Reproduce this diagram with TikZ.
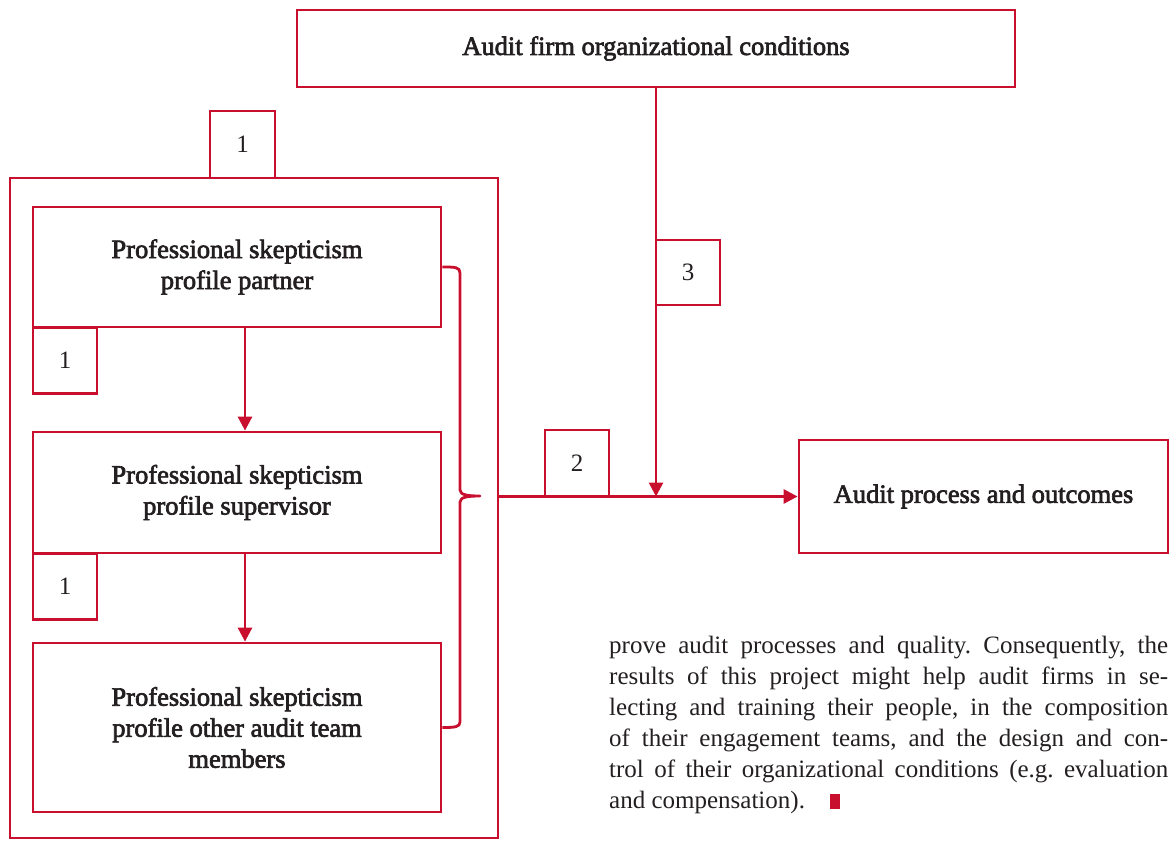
\documentclass[tikz,border=0pt]{standalone}
\usepackage{fontspec}
\setmainfont{Liberation Serif}
\newfontfamily\semib[FakeBold=2.5]{Liberation Serif}
\usetikzlibrary{arrows.meta}
\definecolor{pred}{RGB}{200,16,46}
\definecolor{ptext}{RGB}{35,31,32}
\begin{document}
\begin{tikzpicture}[x=1pt,y=-1pt,
  box/.style={draw=pred, line width=2.8pt, text=ptext, align=center, inner sep=0pt,
              font=\semib\fontsize{26.5}{31}\selectfont},
  numbox/.style={draw=pred, line width=2.8pt, text=ptext, inner sep=0pt,
              font=\fontsize{25}{30}\selectfont, minimum width=64pt, minimum height=66pt},
  conn/.style={draw=pred, line width=2.8pt},
  arr/.style={conn, -{Triangle[length=14pt,width=14pt]}}]
\useasboundingbox (0,0) rectangle (1176,841);

\node[box, minimum width=718pt, minimum height=77pt] (top) at (656,48.5) {Audit firm organizational conditions};
\node[draw=pred, line width=2.8pt, minimum width=488pt, minimum height=660pt, inner sep=0pt] (outer) at (254,508) {};
\node[numbox, minimum width=65pt, minimum height=67pt] (n1top) at (242.5,144.5) {1};

\node[box, minimum width=408pt, minimum height=120pt] (partner) at (237,267) {Professional skepticism\\profile partner};
\node[numbox] (n1a) at (65,360.5) {1};
\node[box, minimum width=408pt, minimum height=121pt] (sup) at (237,492.5) {Professional skepticism\\profile supervisor};
\node[numbox] (n1b) at (65,586.5) {1};
\node[box, minimum width=408pt, minimum height=169pt] (other) at (237,727.5) {Professional skepticism\\profile other audit team\\members};

\node[box, minimum width=369pt, minimum height=113pt] (out) at (983.5,496.5) {Audit process and outcomes};
\node[numbox, minimum height=65pt] (n3) at (688,272.5) {3};
\node[numbox] (n2) at (577,463) {2};

\draw[arr] ([xshift=8pt]partner.south) -- ([xshift=8pt]sup.north);
\draw[arr] ([xshift=8pt]sup.south) -- ([xshift=8pt]other.north);
\draw[arr] (outer.east |- out.west) -- (out.west);
\draw[arr] (top.south) -- (top.south |- out.west);

% brace
\draw[conn, line join=round] (partner.east) .. controls (455,267) and (460,267) .. (460,273)
  -- (460,490) .. controls (460,495) and (468,496) .. (480,496)
  .. controls (468,496) and (460,497) .. (460,502)
  -- (460,722) .. controls (460,727) and (455,727.5) .. (other.east);

\node[anchor=north west, text width=559pt, align=justify, inner sep=0pt, text=ptext,
      font=\fontsize{25}{31}\selectfont] (para) at (609,636)
{\frenchspacing\hyphenpenalty=10000\emergencystretch=20pt
prove audit processes and quality. Consequently, the\linebreak
results of this project might help audit firms in se-\linebreak
lecting and training their people, in the composition\linebreak
of their engagement teams, and the design and con-\linebreak
trol of their organizational conditions (e.g. evaluation\linebreak
and compensation).\hspace{25pt}{\color{pred}\rule{10pt}{15pt}}};
\end{tikzpicture}
\end{document}
